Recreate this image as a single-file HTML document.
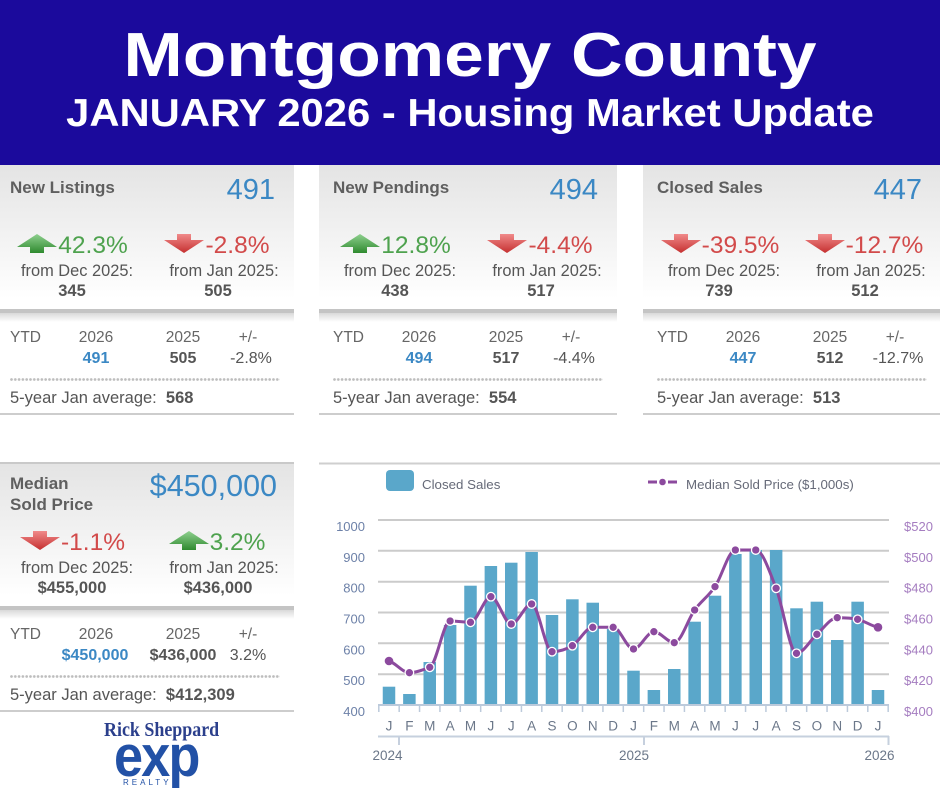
<!DOCTYPE html>
<html><head><meta charset="utf-8"><style>
*{margin:0;padding:0;box-sizing:border-box}
body{width:940px;height:788px;overflow:hidden;background:#fff;position:relative;font-family:"Liberation Sans",Arial,sans-serif}
.hdr{position:absolute;left:0;top:0;width:940px;height:165px;background:#1b0a9c}
.h1{position:absolute;left:0;width:940px;text-align:center;color:#fff;font-weight:bold;white-space:nowrap;line-height:1}
.card{position:absolute;width:298px;height:250px}
.top{position:absolute;left:0;top:0;width:298px;height:145px;background:linear-gradient(#e4e4e4,#f1f1f1 45%,#fff 92%)}
.d1{position:absolute;left:0;top:144px;width:298px;height:4px;background:#c4c4c4}
.d2{position:absolute;left:0;top:148px;width:298px;height:9px;background:linear-gradient(#d9d9d9,#fff)}
.t{position:absolute;white-space:nowrap;line-height:1}
.ttl{left:14px;top:13.9px;font-size:17px;font-weight:bold;color:#5f5f5f}
.big{right:19px;top:10.5px;font-size:29px;color:#3b88c4}
.grp{position:absolute;top:69.3px;width:200px;display:flex;justify-content:center;align-items:flex-start}
.grp svg{display:block;margin-right:1px}
.pct{font-size:24.5px;line-height:1;white-space:nowrap}
.g{color:#4ea24e}.r{color:#d24a4a}
.from{top:97.8px;font-size:16.4px;color:#555;width:200px;text-align:center}
.num{top:117.7px;font-size:16.5px;font-weight:bold;color:#555;width:200px;text-align:center}
.yl{top:164.9px;font-size:15.5px;color:#666;width:100px;text-align:center}
.yv{top:185.5px;font-size:16px;color:#555;width:100px;text-align:center}
.b{font-weight:bold}.bl{color:#3b88c4}
.dots{position:absolute;top:213px;left:14px;width:270px;height:3px;background-image:radial-gradient(circle at 1.5px 1.5px,#bdbdbd 1.1px,transparent 1.6px);background-size:3.8px 3px}
.avg{top:225px;left:14px;font-size:16.5px;color:#555}
.bot{position:absolute;top:248px;left:0;width:298px;height:2px;background:#cdcdcd}
</style></head><body>
<svg width="0" height="0" style="position:absolute">
<defs>
<linearGradient id="gg" x1="0" y1="0" x2="0" y2="1"><stop offset="0" stop-color="#8fd08f"/><stop offset="1" stop-color="#2f8a2f"/></linearGradient>
<linearGradient id="rg" x1="0" y1="0" x2="0" y2="1"><stop offset="0" stop-color="#f08a8a"/><stop offset="1" stop-color="#c53030"/></linearGradient>
</defs></svg>

<div class="hdr"></div>
<div class="h1" style="top:24.5px;font-size:62px;transform:scaleX(1.15);">Montgomery County</div>
<div class="h1" style="top:95.4px;font-size:38.5px;transform:scaleX(1.085);">JANUARY 2026 - Housing Market Update</div>

<!-- Card 1 -->
<div class="card" style="left:-4px;top:165px">
<div class="top"></div><div class="d1"></div><div class="d2"></div>
<div class="t ttl">New Listings</div>
<div class="t big">491</div>
<div class="grp" style="left:-23.5px"><svg width="40" height="19"><polygon points="0,13 20,0 40,13 27,13 27,19 13,19 13,13" fill="url(#gg)"/></svg><span class="pct g">42.3%</span></div>
<div class="grp" style="left:121px"><svg width="40" height="19"><polygon points="13,0 27,0 27,6 40,6 20,19 0,6 13,6" fill="url(#rg)"/></svg><span class="pct r">-2.8%</span></div>
<div class="t from" style="left:-19px">from Dec 2025:</div>
<div class="t from" style="left:128px">from Jan 2025:</div>
<div class="t num" style="left:-24px">345</div>
<div class="t num" style="left:122px">505</div>
<div class="t yl" style="left:14px;width:auto">YTD</div>
<div class="t yl" style="left:50px">2026</div>
<div class="t yl" style="left:137px">2025</div>
<div class="t yl" style="left:202px">+/-</div>
<div class="t yv b bl" style="left:50px">491</div>
<div class="t yv b" style="left:137px">505</div>
<div class="t yv" style="left:205px">-2.8%</div>
<div class="dots"></div>
<div class="t avg">5-year Jan average:&nbsp; <b>568</b></div>
<div class="bot"></div>
</div>

<!-- Card 2 -->
<div class="card" style="left:319px;top:165px">
<div class="top"></div><div class="d1"></div><div class="d2"></div>
<div class="t ttl">New Pendings</div>
<div class="t big">494</div>
<div class="grp" style="left:-23.5px"><svg width="40" height="19"><polygon points="0,13 20,0 40,13 27,13 27,19 13,19 13,13" fill="url(#gg)"/></svg><span class="pct g">12.8%</span></div>
<div class="grp" style="left:121px"><svg width="40" height="19"><polygon points="13,0 27,0 27,6 40,6 20,19 0,6 13,6" fill="url(#rg)"/></svg><span class="pct r">-4.4%</span></div>
<div class="t from" style="left:-19px">from Dec 2025:</div>
<div class="t from" style="left:128px">from Jan 2025:</div>
<div class="t num" style="left:-24px">438</div>
<div class="t num" style="left:122px">517</div>
<div class="t yl" style="left:14px;width:auto">YTD</div>
<div class="t yl" style="left:50px">2026</div>
<div class="t yl" style="left:137px">2025</div>
<div class="t yl" style="left:202px">+/-</div>
<div class="t yv b bl" style="left:50px">494</div>
<div class="t yv b" style="left:137px">517</div>
<div class="t yv" style="left:205px">-4.4%</div>
<div class="dots"></div>
<div class="t avg">5-year Jan average:&nbsp; <b>554</b></div>
<div class="bot"></div>
</div>

<!-- Card 3 -->
<div class="card" style="left:643px;top:165px">
<div class="top"></div><div class="d1"></div><div class="d2"></div>
<div class="t ttl">Closed Sales</div>
<div class="t big">447</div>
<div class="grp" style="left:-23px"><svg width="40" height="19"><polygon points="13,0 27,0 27,6 40,6 20,19 0,6 13,6" fill="url(#rg)"/></svg><span class="pct r">-39.5%</span></div>
<div class="grp" style="left:121px"><svg width="40" height="19"><polygon points="13,0 27,0 27,6 40,6 20,19 0,6 13,6" fill="url(#rg)"/></svg><span class="pct r">-12.7%</span></div>
<div class="t from" style="left:-19px">from Dec 2025:</div>
<div class="t from" style="left:128px">from Jan 2025:</div>
<div class="t num" style="left:-24px">739</div>
<div class="t num" style="left:122px">512</div>
<div class="t yl" style="left:14px;width:auto">YTD</div>
<div class="t yl" style="left:50px">2026</div>
<div class="t yl" style="left:137px">2025</div>
<div class="t yl" style="left:202px">+/-</div>
<div class="t yv b bl" style="left:50px">447</div>
<div class="t yv b" style="left:137px">512</div>
<div class="t yv" style="left:205px">-12.7%</div>
<div class="dots"></div>
<div class="t avg">5-year Jan average:&nbsp; <b>513</b></div>
<div class="bot"></div>
</div>

<!-- Median card -->
<div class="card" style="left:-4px;top:462px">
<div class="top" style="border-top:2px solid #c9c9c9"></div><div class="d1"></div><div class="d2"></div>
<div class="t ttl" style="top:12.6px">Median</div>
<div class="t ttl" style="top:33.6px">Sold Price</div>
<div class="t big" style="right:17px;top:8.9px;font-size:30.5px">$450,000</div>
<div class="grp" style="left:-23.5px"><svg width="40" height="19"><polygon points="13,0 27,0 27,6 40,6 20,19 0,6 13,6" fill="url(#rg)"/></svg><span class="pct r">-1.1%</span></div>
<div class="grp" style="left:121px"><svg width="40" height="19"><polygon points="0,13 20,0 40,13 27,13 27,19 13,19 13,13" fill="url(#gg)"/></svg><span class="pct g">3.2%</span></div>
<div class="t from" style="left:-19px">from Dec 2025:</div>
<div class="t from" style="left:128px">from Jan 2025:</div>
<div class="t num" style="left:-24px">$455,000</div>
<div class="t num" style="left:122px">$436,000</div>
<div class="t yl" style="left:14px;width:auto">YTD</div>
<div class="t yl" style="left:50px">2026</div>
<div class="t yl" style="left:137px">2025</div>
<div class="t yl" style="left:202px">+/-</div>
<div class="t yv b bl" style="left:49px">$450,000</div>
<div class="t yv b" style="left:137px">$436,000</div>
<div class="t yv" style="left:202px">3.2%</div>
<div class="dots"></div>
<div class="t avg">5-year Jan average:&nbsp; <b>$412,309</b></div>
<div class="bot"></div>
</div>

<!-- Logo -->
<div class="t" style="left:104px;top:720.7px;font-family:'Liberation Serif',serif;font-weight:bold;font-size:19.5px;color:#2b3f8c;transform:scaleX(0.92);transform-origin:0 0">Rick Sheppard</div>
<div class="t" style="left:114px;top:727.9px;font-size:58px;font-weight:bold;color:#2251a6;letter-spacing:-2px;transform:scaleX(0.9);transform-origin:0 0">exp</div>
<div class="t" style="left:123px;top:779px;font-size:8px;color:#2251a6;letter-spacing:3px">REALTY</div>

<!-- Chart -->
<svg width="940" height="788" style="position:absolute;left:0;top:0" font-family="Liberation Sans, Arial, sans-serif">
<line x1="319" y1="463.5" x2="940" y2="463.5" stroke="#cfcfcf" stroke-width="2"/>
<rect x="386" y="470" width="28" height="21" rx="4" fill="#5aa7ca"/>
<text x="422" y="489" font-size="13.3" fill="#666a78">Closed Sales</text>
<line x1="648" y1="482" x2="657" y2="482" stroke="#8c4a9e" stroke-width="3"/>
<line x1="668" y1="482" x2="677" y2="482" stroke="#8c4a9e" stroke-width="3"/>
<circle cx="662.5" cy="482" r="3.3" fill="#8c4a9e"/>
<text x="686" y="489" font-size="13.3" fill="#666a78">Median Sold Price ($1,000s)</text>

<g stroke="#cbcbcb" stroke-width="2">
<line x1="378" y1="520" x2="889" y2="520"/>
<line x1="378" y1="550.8" x2="889" y2="550.8"/>
<line x1="378" y1="581.7" x2="889" y2="581.7"/>
<line x1="378" y1="612.5" x2="889" y2="612.5"/>
<line x1="378" y1="643.3" x2="889" y2="643.3"/>
<line x1="378" y1="674.2" x2="889" y2="674.2"/>
</g>
<g font-size="13" fill="#6d81a8" text-anchor="end">
<text x="365" y="531">1000</text><text x="365" y="561.8">900</text><text x="365" y="592.7">800</text><text x="365" y="623.5">700</text><text x="365" y="654.3">600</text><text x="365" y="685.2">500</text><text x="365" y="716">400</text>
</g>
<g font-size="13" fill="#a57dc0">
<text x="904" y="531">$520</text><text x="904" y="561.8">$500</text><text x="904" y="592.7">$480</text><text x="904" y="623.5">$460</text><text x="904" y="654.3">$440</text><text x="904" y="685.2">$420</text><text x="904" y="716">$400</text>
</g>

<g fill="#5aa7ca">
<rect x="382.75" y="686.7" width="12.5" height="17.3"/>
<rect x="403.13" y="694" width="12.5" height="10"/>
<rect x="423.5" y="662" width="12.5" height="42"/>
<rect x="443.88" y="625" width="12.5" height="79"/>
<rect x="464.25" y="585.7" width="12.5" height="118.3"/>
<rect x="484.63" y="566" width="12.5" height="138"/>
<rect x="505" y="562.7" width="12.5" height="141.3"/>
<rect x="525.38" y="552" width="12.5" height="152"/>
<rect x="545.75" y="615" width="12.5" height="89"/>
<rect x="566.13" y="599.3" width="12.5" height="104.7"/>
<rect x="586.5" y="602.7" width="12.5" height="101.3"/>
<rect x="606.88" y="629" width="12.5" height="75"/>
<rect x="627.25" y="670.7" width="12.5" height="33.3"/>
<rect x="647.63" y="690" width="12.5" height="14"/>
<rect x="668" y="669" width="12.5" height="35"/>
<rect x="688.38" y="621.7" width="12.5" height="82.3"/>
<rect x="708.75" y="595.7" width="12.5" height="108.3"/>
<rect x="729.13" y="554" width="12.5" height="150"/>
<rect x="749.5" y="550" width="12.5" height="154"/>
<rect x="769.88" y="550" width="12.5" height="154"/>
<rect x="790.25" y="608.3" width="12.5" height="95.7"/>
<rect x="810.63" y="601.7" width="12.5" height="102.3"/>
<rect x="831" y="640" width="12.5" height="64"/>
<rect x="851.38" y="601.7" width="12.5" height="102.3"/>
<rect x="871.75" y="690" width="12.5" height="14"/>
</g>

<line x1="378" y1="705" x2="889" y2="705" stroke="#bccadb" stroke-width="2"/>
<path stroke="#bccadb" stroke-width="1.5" d="M378.8,705v7M399.18,705v7M419.55,705v7M439.93,705v7M460.3,705v7M480.68,705v7M501.05,705v7M521.43,705v7M541.8,705v7M562.18,705v7M582.55,705v7M602.93,705v7M623.3,705v7M643.68,705v7M664.05,705v7M684.43,705v7M704.8,705v7M725.18,705v7M745.55,705v7M765.93,705v7M786.3,705v7M806.68,705v7M827.05,705v7M847.43,705v7M867.8,705v7M888.18,705v7"/>
<g font-size="13.5" fill="#6b7789" text-anchor="middle">
<text x="389" y="730.7">J</text><text x="409.38" y="730.7">F</text><text x="429.75" y="730.7">M</text><text x="450.13" y="730.7">A</text><text x="470.5" y="730.7">M</text><text x="490.88" y="730.7">J</text><text x="511.25" y="730.7">J</text><text x="531.63" y="730.7">A</text><text x="552" y="730.7">S</text><text x="572.38" y="730.7">O</text><text x="592.75" y="730.7">N</text><text x="613.13" y="730.7">D</text><text x="633.5" y="730.7">J</text><text x="653.88" y="730.7">F</text><text x="674.25" y="730.7">M</text><text x="694.63" y="730.7">A</text><text x="715" y="730.7">M</text><text x="735.38" y="730.7">J</text><text x="755.75" y="730.7">J</text><text x="776.13" y="730.7">A</text><text x="796.5" y="730.7">S</text><text x="816.88" y="730.7">O</text><text x="837.25" y="730.7">N</text><text x="857.63" y="730.7">D</text><text x="878" y="730.7">J</text>
</g>
<line x1="378" y1="736.5" x2="889" y2="736.5" stroke="#c6d0de" stroke-width="2"/>
<path stroke="#c6d0de" stroke-width="2" d="M399,736v9M644,736v9M888.5,736v9"/>
<g font-size="13.5" fill="#6b7789" text-anchor="middle">
<text x="387.5" y="760">2024</text><text x="634" y="760">2025</text><text x="879.5" y="760">2026</text>
</g>

<path fill="none" stroke="#8c4a9e" stroke-width="3" stroke-linejoin="round" d="M389,661 C395.79,662.95 402.58,672.7 409.38,672.7 C416.17,672.7 422.96,669.8 429.75,667.3 C436.54,664.8 443.34,621 450.13,621 C456.92,621 463.71,622.3 470.5,622.3 C477.29,622.3 484.09,596.7 490.88,596.7 C497.67,596.7 504.46,624 511.25,624 C518.04,624 524.84,604 531.63,604 C538.42,604 545.21,651.7 552,651.7 C558.79,651.7 565.59,649.8 572.38,645.7 C579.17,641.6 585.96,627.3 592.75,627.3 C599.54,627.3 606.34,627.3 613.13,627.3 C619.92,627.3 626.71,649 633.5,649 C640.29,649 647.09,631.7 653.88,631.7 C660.67,631.7 667.46,642.7 674.25,642.7 C681.04,642.7 687.84,619.3 694.63,610 C701.42,600.7 708.21,596.7 715,586.7 C721.79,576.7 728.59,550 735.38,550 C742.17,550 748.96,550 755.75,550 C762.54,550 769.34,571.1 776.13,588.3 C782.92,605.5 789.71,653.3 796.5,653.3 C803.29,653.3 810.09,640.2 816.88,634.3 C823.67,628.4 830.46,617.7 837.25,617.7 C844.04,617.7 850.84,617.7 857.63,619.3 C864.42,620.9 871.21,626 878,627.3"/>
<g fill="#8c4a9e" stroke="#fff" stroke-width="1.3">
<circle cx="389" cy="661" r="4.3" stroke="none"/>
<circle cx="409.38" cy="672.7" r="4.3"/>
<circle cx="429.75" cy="667.3" r="4.3"/>
<circle cx="450.13" cy="621" r="4.3"/>
<circle cx="470.5" cy="622.3" r="4.3"/>
<circle cx="490.88" cy="596.7" r="4.3"/>
<circle cx="511.25" cy="624" r="4.3"/>
<circle cx="531.63" cy="604" r="4.3"/>
<circle cx="552" cy="651.7" r="4.3"/>
<circle cx="572.38" cy="645.7" r="4.3"/>
<circle cx="592.75" cy="627.3" r="4.3"/>
<circle cx="613.13" cy="627.3" r="4.3"/>
<circle cx="633.5" cy="649" r="4.3"/>
<circle cx="653.88" cy="631.7" r="4.3"/>
<circle cx="674.25" cy="642.7" r="4.3"/>
<circle cx="694.63" cy="610" r="4.3"/>
<circle cx="715" cy="586.7" r="4.3"/>
<circle cx="735.38" cy="550" r="4.3"/>
<circle cx="755.75" cy="550" r="4.3"/>
<circle cx="776.13" cy="588.3" r="4.3"/>
<circle cx="796.5" cy="653.3" r="4.3"/>
<circle cx="816.88" cy="634.3" r="4.3"/>
<circle cx="837.25" cy="617.7" r="4.3"/>
<circle cx="857.63" cy="619.3" r="4.3"/>
<circle cx="878" cy="627.3" r="4.3" stroke="none"/>
</g>
</svg>
</body></html>
